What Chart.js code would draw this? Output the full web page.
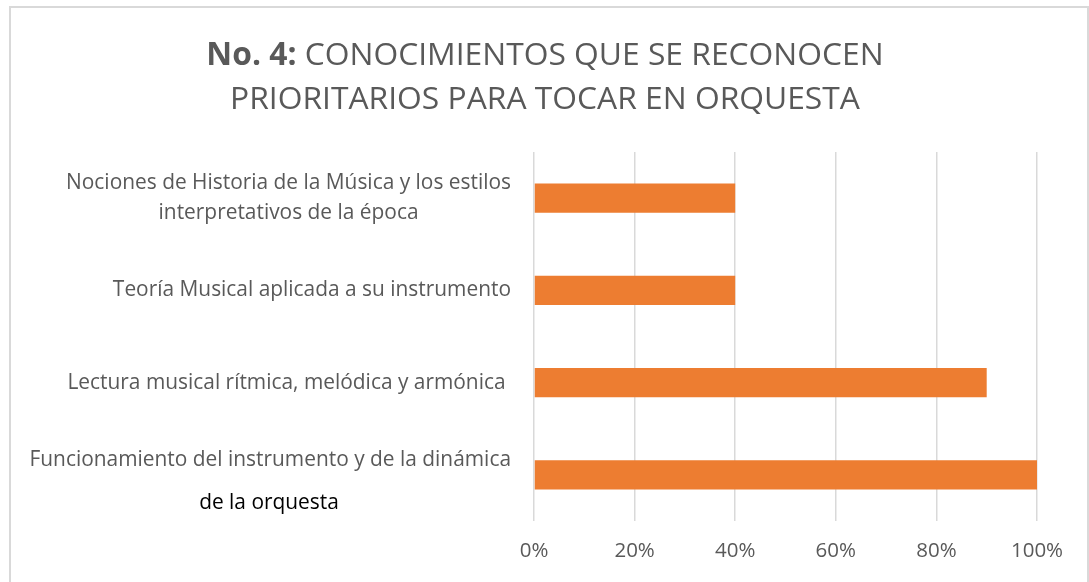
<!DOCTYPE html>
<html>
<head>
<meta charset="utf-8">
<script src="https://cdn.jsdelivr.net/npm/chart.js@4"></script>
<style>
  body { margin: 0; background: #fff; }
  #wrap { width: 1089px; height: 582px; }
</style>
</head>
<body>
<div id="wrap"><canvas id="grafico" width="1089" height="582"></canvas></div>
<script>
// datos del grafico
const categorias = [
  ['Nociones de Historia de la Música y los estilos', 'interpretativos de la época'],
  ['Teoría Musical aplicada a su instrumento'],
  ['Lectura musical rítmica, melódica y armónica '],
  ['Funcionamiento del instrumento y de la dinámica', '']
];
const valores = [40, 40, 90, 100];
const ticksX = [0, 20, 40, 60, 80, 100];
const tituloNegrita = 'No. 4:';
const tituloLinea1 = ' CONOCIMIENTOS QUE SE RECONOCEN';
const tituloLinea2 = 'PRIORITARIOS PARA TOCAR EN ORQUESTA';
const notaExtra = 'de la orquesta';

const fuente = '"Open Sans", sans-serif';
const gris = '#595959';

// marco, titulo y etiquetas del eje de categorias
const dibujoExtra = {
  id: 'dibujoExtra',
  beforeDraw(chart) {
    const ctx = chart.ctx;
    ctx.save();
    ctx.fillStyle = '#fff';
    ctx.fillRect(0, 0, chart.width, chart.height);
    ctx.strokeStyle = '#d9d9d9';
    ctx.lineWidth = 2;
    ctx.strokeRect(10, 7, 1078, 620);
    ctx.restore();
  },
  afterDraw(chart) {
    const ctx = chart.ctx;
    ctx.save();
    // titulo
    ctx.fillStyle = gris;
    ctx.textBaseline = 'middle';
    ctx.font = 'bold 31.8px ' + fuente;
    const wB = ctx.measureText(tituloNegrita).width;
    ctx.font = '31.8px ' + fuente;
    const wN = ctx.measureText(tituloLinea1).width;
    let x0 = 545 - (wB + wN) / 2;
    ctx.textAlign = 'left';
    ctx.font = 'bold 31.8px ' + fuente;
    ctx.fillText(tituloNegrita, x0, 56);
    ctx.font = '31.8px ' + fuente;
    ctx.fillText(tituloLinea1, x0 + wB, 56);
    ctx.textAlign = 'center';
    ctx.fillText(tituloLinea2, 545, 100);

    // etiquetas de categoria
    const y = chart.scales.y;
    ctx.font = '20.9px ' + fuente;
    const derecha = 511;
    categorias.forEach((lineas, i) => {
      const yc = y.getPixelForTick(i);
      const maxW = Math.max(...lineas.map(l => ctx.measureText(l).width));
      const cx = derecha - maxW / 2;
      lineas.forEach((l, j) => {
        ctx.textAlign = 'center';
        ctx.fillText(l, cx, yc - (lineas.length - 1) * 15 + j * 30);
      });
    });
    // texto suelto en negro
    ctx.fillStyle = '#000';
    ctx.textAlign = 'center';
    ctx.fillText(notaExtra, 269, 503);
    ctx.restore();
  }
};

const ctx = document.getElementById('grafico').getContext('2d');
const myChart = new Chart(ctx, {
  type: 'bar',
  data: {
    labels: categorias,
    datasets: [{
      data: valores,
      backgroundColor: '#ED7D31',
      barPercentage: 0.315,
      categoryPercentage: 1
    }]
  },
  options: {
    indexAxis: 'y',
    responsive: false,
    animation: false,
    layout: { padding: { top: 152, right: 52, left: 0, bottom: 0 } },
    plugins: {
      legend: { display: false },
      title: { display: false },
      tooltip: { enabled: false }
    },
    scales: {
      x: {
        min: 0,
        max: 100,
        afterBuildTicks(scale) {
          scale.ticks = ticksX.map(v => ({ value: v }));
        },
        afterFit(scale) { scale.height = 61; },
        grid: { color: '#d9d9d9', lineWidth: 1.5, drawTicks: false },
        border: { display: false },
        ticks: {
          padding: 18,
          color: gris,
          font: { family: fuente, size: 20.5 },
          callback: v => v + '%'
        }
      },
      y: {
        afterFit(scale) { scale.width = 534; },
        grid: { display: false },
        border: { display: false },
        ticks: { display: false }
      }
    }
  },
  plugins: [dibujoExtra]
});
</script>
</body>
</html>
